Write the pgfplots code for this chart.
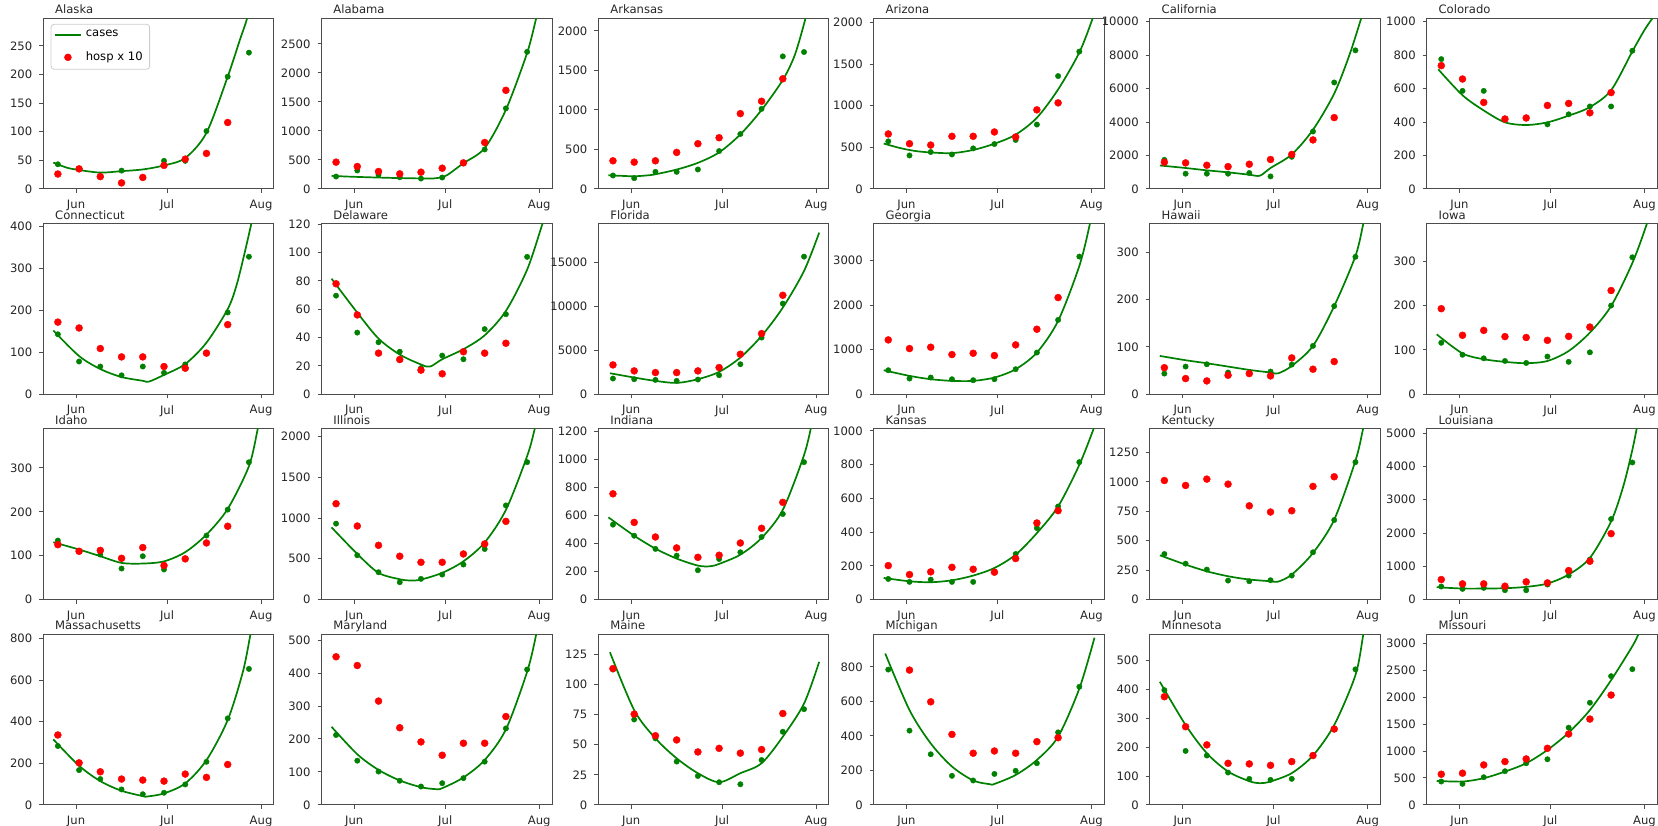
\documentclass[border=0pt]{standalone}
\usepackage{fontspec}
\setmainfont{DejaVu Sans}
\usepackage{pgfplots}
\pgfplotsset{compat=1.18}
\definecolor{mgreen}{RGB}{0,128,0}
\definecolor{mred}{RGB}{255,0,0}
\newcommand\fsz{\fontsize{5.8}{7}\selectfont}
\pgfplotsset{
 every axis title/.style={at={(0.05,1)}, anchor=base west, yshift=2.2pt, font=\fsz, inner sep=0pt, text=black!85},
 panel/.style={
   scale only axis, width=115.25pt, height=85.3pt,
   anchor=north west,
   xmin=-10.8, xmax=65.2, ymin=0,
   xtick={0,30,61}, xticklabels={Jun,Jul,Aug},
   tick align=outside, xtick pos=bottom, ytick pos=left,
   major tick length=2pt,
   axis line style={black!70, line width=0.45pt},
   every tick/.style={black!70, line width=0.45pt},
   tick label style={font=\fsz, text=black!85},
   scaled y ticks=false,
   yticklabel style={/pgf/number format/fixed, /pgf/number format/1000 sep={}},
   /pgf/number format/assume math mode=true,
   clip=true,
 },
 cline/.style={mgreen, line width=0.85pt, smooth, tension=0.5, no markers},
 gdots/.style={only marks, mark=*, mark size=1.35pt, color=mgreen, line width=0.2pt},
 rdots/.style={only marks, mark=*, mark size=1.75pt, color=mred, line width=0.2pt},
 clineleg/.style={legend image code/.code={\draw[##1] (0pt,0pt) -- (13pt,0pt);}},
 rdotsleg/.style={legend image code/.code={\draw[mark repeat=2,mark phase=2,##1] plot coordinates {(0pt,0pt)(6.5pt,0pt)(13pt,0pt)};}},
}
% #1 position, #2 title, #3 ymax, #4 yticks, #5 fitted line, #6 cases, #7 hosp x 10
\newcommand\panel[7]{%
\begin{axis}[panel, at={#1}, title={#2}, ymax=#3, ytick={#4}]
\addplot[cline] coordinates {#5};
\addplot[gdots] coordinates {#6};
\addplot[rdots] coordinates {#7};
\end{axis}}
\begin{document}
\begin{tikzpicture}
\useasboundingbox (0pt,0pt) rectangle (829pt,-412.5pt);
% ---------- row 1
\begin{axis}[panel, at={(21.65pt,-9.15pt)}, title={Alaska}, ymax=298, ytick={0,50,...,250},
  legend style={at={(0.032,0.967)}, anchor=north west, draw=black!20, rounded corners=1.5pt,
    fill=white, font=\fsz, inner xsep=1.5pt, inner ysep=1pt, row sep=1.8pt},
  legend cell align=left]
\addplot[cline, clineleg] coordinates {(-7.5,46)(-3,37)(1,33)(8,28.5)(15,31)(22,34)(29,41)(36,54)(43,98)(50,196)(54,260)(56.4,298)(58,340)};
\addlegendentry{cases}
\addplot[gdots, forget plot] coordinates {(-6,43)(1,35)(8,22)(15,32)(22,20)(29,49)(36,49)(43,101)(50,196)(57,238)};
\addplot[rdots, rdotsleg] coordinates {(-6,26)(1,35)(8,21.5)(15,10.5)(22,20)(29,41)(36,52)(43,62)(50,116)};
\addlegendentry{hosp x 10}
\end{axis}
\panel{(160.75pt,-9.15pt)}{Alabama}{2940}{0,500,...,2500}
 {(-7.5,225)(-2,212)(5,200)(12,190)(20,182)(26,180)(29,205)(31,250)(36,443)(43,703)(50,1365)(57,2344)(60,2940)(62,3300)}
 {(-6,213)(1,317)(8,242)(15,200)(22,178)(29,196)(36,449)(43,680)(50,1388)(57,2362)}
 {(-6,461)(1,386)(8,300)(15,259)(22,288)(29,357)(36,449)(43,800)(50,1699)}
\panel{(299.2pt,-9.15pt)}{Arkansas}{2160}{0,500,...,2000}
 {(-7.5,172)(-3,165)(1,160)(5,170)(8,185)(15,245)(22,330)(29,462)(36,690)(43,1000)(50,1380)(54,1700)(57.5,2160)(59,2400)}
 {(-6,170)(1,136)(8,216)(15,216)(22,246)(29,479)(36,695)(43,1013)(50,1678)(57,1733)}
 {(-6,356)(1,339)(8,356)(15,462)(22,572)(29,648)(36,953)(43,1110)(50,1394)}
\panel{(436.85pt,-9.15pt)}{Arizona}{2050}{0,500,...,2000}
 {(-7.5,545)(-2,490)(3,455)(8,438)(15,430)(22,468)(29,543)(36,652)(43,855)(50,1195)(57,1640)(61.4,2050)(63,2250)}
 {(-6,571)(1,402)(8,443)(15,414)(22,487)(29,539)(36,588)(43,773)(50,1356)(57,1650)}
 {(-6,660)(1,543)(8,527)(15,632)(22,632)(29,684)(36,624)(43,950)(50,1034)}
\panel{(574.9pt,-9.15pt)}{California}{10200}{0,2000,...,10000}
 {(-7.5,1400)(1,1250)(8,1110)(15,990)(22,850)(25.5,790)(29,1250)(36,2060)(43,3535)(50,5700)(55,8000)(58.9,10200)(61,11500)}
 {(-6,1737)(1,909)(8,909)(15,909)(22,950)(29,747)(36,1919)(43,3434)(50,6364)(57,8283)}
 {(-6,1596)(1,1556)(8,1414)(15,1333)(22,1475)(29,1758)(36,2061)(43,2929)(50,4263)}
\panel{(713.35pt,-9.15pt)}{Colorado}{1020}{0,200,...,1000}
 {(-7,715)(1,560)(8,469)(15,398)(22,382)(29,398)(36,438)(43,489)(50,590)(57,822)(61,950)(64,1030)}
 {(-6,776)(1,586)(8,586)(15,420)(22,424)(29,386)(36,446)(43,493)(50,493)(57,826)}
 {(-6,737)(1,657)(8,517)(15,418)(22,424)(29,499)(36,511)(43,455)(50,576)}
% ---------- row 2
\panel{(21.65pt,-111.8pt)}{Connecticut}{407}{0,100,...,400}
 {(-7.5,152)(1,91)(8,60)(15,41)(22,32)(24,30)(29,46)(36,72)(43,123)(50,203)(53,262)(56,350)(58.5,430)(60,480)}
 {(-6,143)(1,78)(8,66)(15,45)(22,66)(29,51)(36,71)(43,98)(50,195)(57,328)}
 {(-6,172)(1,158)(8,109)(15,89)(22,89)(29,66)(36,62)(43,98)(50,166)}
\panel{(160.75pt,-111.8pt)}{Delaware}{120.5}{0,20,...,120}
 {(-7.5,81.6)(1,57.6)(8,39.3)(15,28)(22,21)(25,19.5)(29,24.7)(36,31.8)(43,41.6)(50,58.8)(57,88)(62,120)(63,126)}
 {(-6,69.6)(1,43.5)(8,36.7)(15,30)(22,18.4)(29,27.3)(36,24.7)(43,46)(50,56.5)(57,97)}
 {(-6,78)(1,56)(8,29)(15,24.5)(22,17)(29,14.4)(36,30)(43,29)(50,36)}
\panel{(299.2pt,-111.8pt)}{Florida}{19450}{0,5000,10000,15000}
 {(-7,2393)(1,1899)(8,1519)(15,1291)(22,1709)(29,2545)(36,4178)(43,6646)(50,9875)(57,14052)(62,18420)}
 {(-6,1785)(1,1709)(8,1633)(15,1519)(22,1671)(29,2165)(36,3418)(43,6456)(50,10330)(57,15685)}
 {(-6,3342)(1,2658)(8,2468)(15,2468)(22,2658)(29,3038)(36,4557)(43,6912)(50,11280)}
\panel{(436.85pt,-111.8pt)}{Georgia}{3835}{0,1000,2000,3000}
 {(-7.5,539)(1,412)(8,337)(15,300)(22,300)(29,375)(36,562)(43,936)(50,1648)(57,2884)(60.5,3835)(62,4400)}
 {(-6,539)(1,352)(8,375)(15,337)(22,315)(29,337)(36,562)(43,936)(50,1670)(57,3094)}
 {(-6,1221)(1,1026)(8,1056)(15,891)(22,921)(29,869)(36,1109)(43,1461)(50,2172)}
\panel{(574.9pt,-111.8pt)}{Hawaii}{360}{0,100,200,300}
 {(-7.5,80.8)(1,71.7)(8,65.3)(15,58.3)(22,51.3)(29,45.7)(31.5,44)(36,59.7)(43,102)(50,186)(57,291.6)(59.6,360)(61,400)}
 {(-6,43.5)(1,58.3)(8,63.2)(15,45.7)(22,45)(29,47.8)(36,62.5)(43,102)(50,186)(57,290)}
 {(-6,56)(1,33)(8,28)(15,40)(22,43.5)(29,38.6)(36,76.6)(43,52.7)(50,68.9)}
\panel{(713.35pt,-111.8pt)}{Iowa}{385}{0,100,200,300}
 {(-7.5,135)(1,92)(8,79)(15,73)(22,70)(29,75)(36,97.5)(43,139)(50,199)(57,296)(61.8,385)(63,420)}
 {(-6,116)(1,89)(8,81)(15,75)(22,70.5)(29,85)(36,73)(43,94.5)(50,200)(57,309)}
 {(-6,193)(1,133)(8,144)(15,130)(22,128)(29,121.5)(36,130.5)(43,151.5)(50,234)}
% ---------- row 3
\panel{(21.65pt,-214.45pt)}{Idaho}{389}{0,100,200,300}
 {(-7.5,130.6)(1,114)(8,98.7)(15,83.5)(22,82)(29,87)(36,108)(43,148)(50,206.6)(57,304)(59.9,389)(61,430)}
 {(-6,134.4)(1,110)(8,102.5)(15,70.6)(22,98.7)(29,68.4)(36,92)(43,145.8)(50,205)(57,313)}
 {(-6,125)(1,110)(8,112)(15,94)(22,118.5)(29,77.5)(36,92.7)(43,129)(50,167)}
\panel{(160.75pt,-214.45pt)}{Illinois}{2094}{0,500,...,2000}
 {(-7.5,886)(1,559)(8,327)(15,249)(18.5,233)(22,245)(29,327)(36,469)(43,700)(50,1100)(57,1760)(59.5,2094)(61,2350)}
 {(-6,931)(1,543)(8,335)(15,212)(22,253)(29,306)(36,429)(43,620)(50,1155)(57,1686)}
 {(-6,1176)(1,902)(8,665)(15,531)(22,457)(29,457)(36,559)(43,682)(50,959)}
\panel{(299.2pt,-214.45pt)}{Indiana}{1217}{0,200,...,1200}
 {(-7.5,586)(1,455)(8,363)(15,292)(22,242)(26,237)(29,254)(36,320)(43,439)(50,640)(57,1030)(59.5,1250)}
 {(-6,534)(1,455)(8,361)(15,313)(22,209)(29,289)(36,337)(43,446)(50,610)(57,980)}
 {(-6,754)(1,550)(8,446)(15,368)(22,301)(29,316)(36,403)(43,508)(50,693)}
\panel{(436.85pt,-214.45pt)}{Kansas}{1012}{0,200,...,1000}
 {(-7.5,128)(1,108)(8,102.5)(15,114)(22,142)(29,187)(36,266)(43,394)(50,552)(57,799)(61.7,1012)(63,1080)}
 {(-6,122)(1,104.5)(8,118)(15,104.5)(22,104.5)(29,165)(36,270)(43,424)(50,552)(57,815)}
 {(-6,201)(1,148)(8,164)(15,191)(22,179.5)(29,162)(36,243)(43,454)(50,527)}
\panel{(574.9pt,-214.45pt)}{Kentucky}{1451}{0,250,...,1250}
 {(-7.5,376)(1,297)(8,240)(15,198)(22,170)(29,155.5)(31.5,152)(36,212)(43,396)(50,679)(57,1180)(59.5,1451)(61,1650)}
 {(-6,387)(1,305)(8,254.5)(15,161)(22,155.5)(29,164)(36,203.6)(43,401.6)(50,676)(57,1168)}
 {(-6,1012)(1,970)(8,1024)(15,981)(22,797)(29,744)(36,755)(43,962)(50,1044)}
\panel{(713.35pt,-214.45pt)}{Louisiana}{5130}{0,1000,...,5000}
 {(-7.5,370)(1,330)(8,330)(15,340)(22,380)(29,480)(36,750)(43,1250)(50,2350)(54,3400)(57,4500)(59,5400)}
 {(-6,390)(1,320)(8,350)(15,280)(22,280)(29,450)(36,720)(43,1200)(50,2420)(57,4120)}
 {(-6,600)(1,470)(8,470)(15,400)(22,530)(29,500)(36,870)(43,1150)(50,1980)}
% ---------- row 4
\panel{(21.65pt,-317.1pt)}{Massachusetts}{821}{0,200,...,800}
 {(-7.5,315)(1,188)(8,114)(15,67.5)(22,42)(23.5,40)(29,55)(36,103)(43,215)(50,408)(55,640)(57.5,821)(59,950)}
 {(-6,283)(1,167)(8,124)(15,74)(22,51)(29,58)(36,98)(43,207)(50,416)(57,654)}
 {(-6,336)(1,202)(8,159)(15,124)(22,119)(29,114)(36,148)(43,132)(50,194)}
\panel{(160.75pt,-317.1pt)}{Maryland}{518}{0,100,...,500}
 {(-7.5,237)(1,153.5)(8,106)(15,74)(22,53.5)(27,47.5)(29,50.5)(36,83)(43,136)(50,229)(57,404)(60,518)(61.5,600)}
 {(-6,212)(1,134)(8,101)(15,73)(22,55.5)(29,65.7)(36,81)(43,131)(50,232)(57,411)}
 {(-6,449.5)(1,423)(8,315)(15,234)(22,191)(29,150.5)(36,187)(43,187)(50,268)}
\panel{(299.2pt,-317.1pt)}{Maine}{142}{0,25,...,125}
 {(-7,127)(1,78.8)(8,55.3)(15,38.7)(22,26.3)(29,18.8)(36,26.3)(43,34.6)(50,56.7)(57,84.3)(62,119)}
 {(-6,112.6)(1,71)(8,55.3)(15,36)(22,24)(29,18.8)(36,17.1)(43,37.3)(50,60.8)(57,79.6)}
 {(-6,113.4)(1,75.5)(8,57.5)(15,54)(22,44)(29,47)(36,43)(43,46)(50,76)}
\panel{(436.85pt,-317.1pt)}{Michigan}{989}{0,200,...,800}
 {(-7,877)(1,549)(8,356)(15,222)(22,141)(27.5,119.5)(29,121)(36,173)(43,260)(50,395)(57,674)(62,969)}
 {(-6,784)(1,430)(8,293)(15,168)(22,141)(29,179)(36,197)(43,241)(50,420)(57,684)}
 {(1,781)(8,597)(15,408)(22,299)(29,312)(36,299)(43,366)(50,389)}
\panel{(574.9pt,-317.1pt)}{Minnesota}{592}{0,100,...,500}
 {(-7.5,427)(1,277)(8,179)(15,115.5)(22,82)(25.5,75)(29,81)(36,110)(43,171)(50,277)(57,450)(59.6,592)(61,680)}
 {(-6,398)(1,187)(8,171)(15,112)(22,90)(29,86.6)(36,90)(43,171)(50,263)(57,470)}
 {(-6,375)(1,271)(8,208)(15,144)(22,142)(29,137)(36,150)(43,171)(50,263)}
\panel{(713.35pt,-317.1pt)}{Missouri}{3173}{0,500,...,3000}
 {(-7.5,445)(1,433)(8,495)(15,618)(22,773)(29,1020)(36,1342)(43,1762)(50,2319)(57,2950)(59,3173)(60,3300)}
 {(-6,433)(1,390)(8,513)(15,625)(22,773)(29,847)(36,1435)(43,1899)(50,2393)(57,2523)}
 {(-6,569)(1,588)(8,742)(15,804)(22,853)(29,1051)(36,1317)(43,1595)(50,2041)}
\end{tikzpicture}
\end{document}
